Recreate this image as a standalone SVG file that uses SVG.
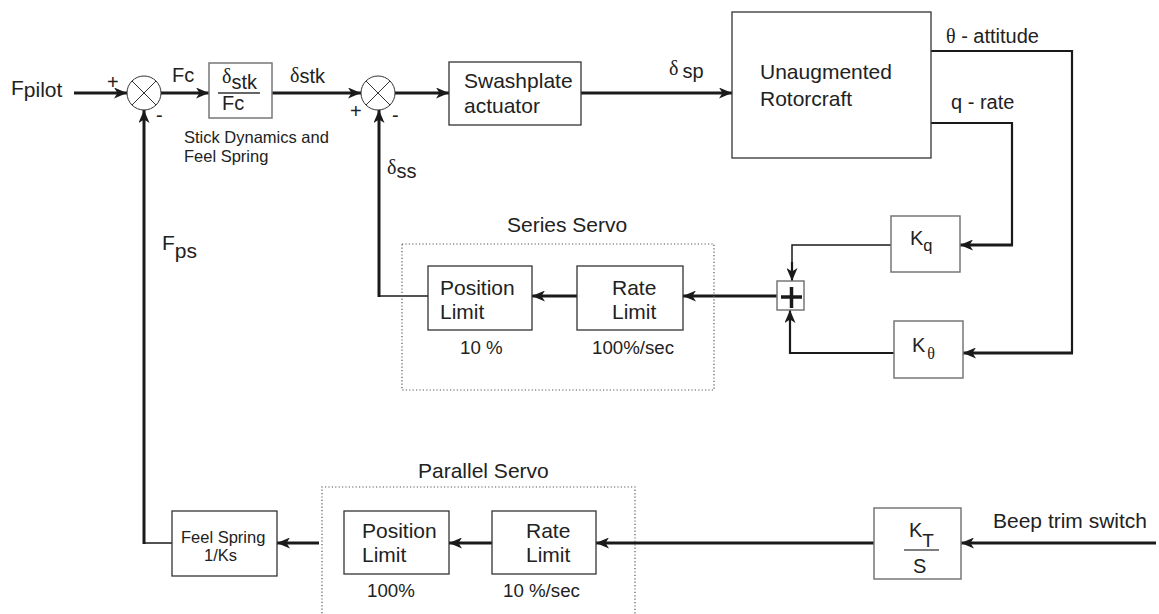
<svg xmlns="http://www.w3.org/2000/svg" width="1159" height="614" viewBox="0 0 1159 614">
<style>
  text { font-family: "Liberation Sans", Arial, sans-serif; fill: #222; }
  .t21 { font-size: 21px; }
  .t20 { font-size: 20px; }
  .t19 { font-size: 18.7px; }
  .t16 { font-size: 16.5px; }
  .g { font-family: "Liberation Serif", "DejaVu Serif", serif; }
  .box { fill: #fff; stroke: #333; stroke-width: 1.3; }
  .gbox { fill: #fff; stroke: #777; stroke-width: 1.5; }
  .dot { fill: none; stroke: #555; stroke-width: 1.2; stroke-dasharray: 1.2 2.2; }
  .sj { fill: #fff; stroke: #333; stroke-width: 1; }
  .thick { fill: none; stroke: #1a1a1a; stroke-width: 3; }
  .med { fill: none; stroke: #1a1a1a; stroke-width: 2.2; }
  .thin { fill: none; stroke: #1a1a1a; stroke-width: 1.5; }
  .arr { marker-end: url(#ah); }
</style>
<defs>
  <marker id="ah" markerUnits="userSpaceOnUse" markerWidth="14" markerHeight="11" refX="13" refY="5.5" orient="auto">
    <path d="M0,0 L13,5.5 L0,11 L3.5,5.5 z" fill="#1a1a1a"/>
  </marker>
</defs>
<rect width="1159" height="614" fill="#fff"/>

<g id="connectors">
  <!-- Fpilot to sum1 -->
  <line class="thick arr" x1="74" y1="93" x2="127" y2="93"/>
  <!-- sum1 to stick box -->
  <line class="thick arr" x1="161" y1="93" x2="209" y2="93"/>
  <!-- stick box to sum2 -->
  <line class="thick arr" x1="272" y1="93" x2="361" y2="93"/>
  <!-- sum2 to swashplate -->
  <line class="thick arr" x1="395" y1="93" x2="449" y2="93"/>
  <!-- swashplate to rotorcraft -->
  <line class="thick arr" x1="581" y1="93" x2="732" y2="93"/>
  <!-- theta feedback -->
  <polyline class="med" points="931,51 1072,51 1072,353"/>
  <line class="thick arr" x1="1073" y1="353" x2="963" y2="353"/>
  <!-- q feedback -->
  <polyline class="med" points="931,123 1012,123 1012,245"/>
  <line class="thick arr" x1="1013" y1="245" x2="960" y2="245"/>
  <!-- Kq to sum box -->
  <polyline class="thin" points="891,245 792,245 792,268"/>
  <line class="med arr" x1="792" y1="262" x2="792" y2="281"/>
  <!-- Ktheta to sum box -->
  <polyline class="med arr" points="894,353 790,353 790,310"/>
  <!-- sum box to series rate limit -->
  <line class="thick arr" x1="777" y1="296" x2="683" y2="296"/>
  <!-- rate limit to position limit (series) -->
  <line class="thick arr" x1="577" y1="296" x2="532" y2="296"/>
  <!-- position limit to sum2 -->
  <polyline class="thin" points="428,296 379,296"/>
  <line class="thick arr" x1="379" y1="297" x2="379" y2="110"/>
  <!-- beep trim to KT -->
  <line class="thick arr" x1="1156" y1="543" x2="961" y2="543"/>
  <!-- KT to parallel rate limit -->
  <line class="thick arr" x1="874" y1="543" x2="596" y2="543"/>
  <!-- rate limit to position limit (parallel) -->
  <line class="thick arr" x1="492" y1="543" x2="449" y2="543"/>
  <!-- parallel servo to feel spring -->
  <line class="thick arr" x1="319" y1="543" x2="277" y2="543"/>
  <!-- feel spring to sum1 -->
  <polyline class="thin" points="172,543 144,543"/>
  <line class="thick arr" x1="144" y1="544" x2="144" y2="110"/>
</g>

<g id="sum1">
  <circle class="sj" cx="144" cy="93" r="17"/>
  <line class="sj" x1="132" y1="81" x2="156" y2="105"/>
  <line class="sj" x1="156" y1="81" x2="132" y2="105"/>
  <text class="t20" x="107" y="89">+</text>
  <text class="t20" x="156" y="122">-</text>
</g>

<g id="sum2">
  <circle class="sj" cx="378" cy="93" r="17"/>
  <line class="sj" x1="366" y1="81" x2="390" y2="105"/>
  <line class="sj" x1="390" y1="81" x2="366" y2="105"/>
  <text class="t20" x="350" y="118">+</text>
  <text class="t20" x="392" y="122">-</text>
</g>

<g id="labels">
  <text class="t21" x="11" y="95">F<tspan dy="2">pilot</tspan></text>
  <text class="t20" x="172" y="82">Fc</text>
  <text class="t20" x="290" y="82"><tspan class="g">δ</tspan><tspan dy="1">stk</tspan></text>
  <text class="t20" x="669" y="75"><tspan class="g">δ</tspan><tspan dx="4" dy="3">sp</tspan></text>
  <text class="t20" x="387" y="174"><tspan class="g">δ</tspan><tspan dy="4">ss</tspan></text>
  <text class="t21" x="162" y="250">F<tspan dy="8">ps</tspan></text>
  <text class="t16" x="184" y="143">Stick Dynamics and</text>
  <text class="t16" x="184" y="162">Feel Spring</text>
  <text class="t20" x="946" y="43"><tspan class="g">θ</tspan> - attitude</text>
  <text class="t20" x="951" y="109">q - rate</text>
  <text class="t21" x="993" y="528">Beep trim switch</text>
</g>

<g id="stick">
  <rect class="gbox" x="209" y="63" width="63" height="55"/>
  <text class="t20" x="222" y="83"><tspan class="g">δ</tspan><tspan dy="6">stk</tspan></text>
  <line x1="218" y1="93" x2="260" y2="93" stroke="#333" stroke-width="1.5"/>
  <text class="t20" x="222" y="110">Fc</text>
</g>

<g id="swashplate">
  <rect class="box" x="449" y="62" width="132" height="63"/>
  <text class="t21" x="464" y="88">Swashplate</text>
  <text class="t21" x="464" y="113">actuator</text>
</g>

<g id="rotorcraft">
  <rect class="box" x="732" y="12" width="199" height="146"/>
  <text class="t21" x="760" y="79">Unaugmented</text>
  <text class="t21" x="760" y="106">Rotorcraft</text>
</g>

<g id="kq">
  <rect class="gbox" x="891" y="216" width="69" height="56"/>
  <text class="t20" x="910" y="245">K<tspan font-size="16.5" dy="6">q</tspan></text>
</g>

<g id="ktheta">
  <rect class="gbox" x="894" y="321" width="69" height="57"/>
  <text class="t20" x="912" y="352">K<tspan class="g" font-size="16" dx="2" dy="7">θ</tspan></text>
</g>

<g id="sumbox">
  <rect class="gbox" x="777" y="281" width="27" height="29"/>
  <line x1="781" y1="297" x2="802" y2="297" stroke="#1a1a1a" stroke-width="3.5"/>
  <line x1="791.5" y1="287" x2="791.5" y2="308" stroke="#1a1a1a" stroke-width="3.5"/>
</g>

<g id="series-servo">
  <rect class="dot" x="402" y="244" width="312" height="146"/>
  <text class="t21" x="507" y="232">Series Servo</text>
</g>

<g id="series-position">
  <rect class="box" x="428" y="266" width="104" height="64"/>
  <text class="t21" x="440" y="295">Position</text>
  <text class="t21" x="440" y="319">Limit</text>
  <text class="t19" x="460" y="354">10 %</text>
</g>

<g id="series-rate">
  <rect class="box" x="577" y="266" width="106" height="64"/>
  <text class="t21" x="612" y="295">Rate</text>
  <text class="t21" x="612" y="319">Limit</text>
  <text class="t19" x="592" y="354">100%/sec</text>
</g>

<g id="parallel-servo">
  <path class="dot" d="M322,620 L322,487 L635,487 L635,620"/>
  <text class="t21" x="418" y="478">Parallel Servo</text>
</g>

<g id="parallel-position">
  <rect class="box" x="344" y="511" width="105" height="63"/>
  <text class="t21" x="362" y="538">Position</text>
  <text class="t21" x="362" y="562">Limit</text>
  <text class="t19" x="367" y="597">100%</text>
</g>

<g id="parallel-rate">
  <rect class="box" x="492" y="511" width="104" height="63"/>
  <text class="t21" x="526" y="538">Rate</text>
  <text class="t21" x="526" y="562">Limit</text>
  <text class="t19" x="503" y="597">10 %/sec</text>
</g>

<g id="feelspring">
  <rect class="box" x="172" y="511" width="105" height="65"/>
  <text class="t16" x="181" y="543">Feel Spring</text>
  <text class="t16" x="204" y="561">1/Ks</text>
</g>

<g id="kt">
  <rect class="gbox" x="874" y="508" width="87" height="71"/>
  <text class="t20" x="909" y="537">K<tspan font-size="19" dy="10">T</tspan></text>
  <line x1="904" y1="550" x2="939" y2="550" stroke="#555" stroke-width="1.3"/>
  <text class="t20" x="913" y="573">S</text>
</g>
</svg>
